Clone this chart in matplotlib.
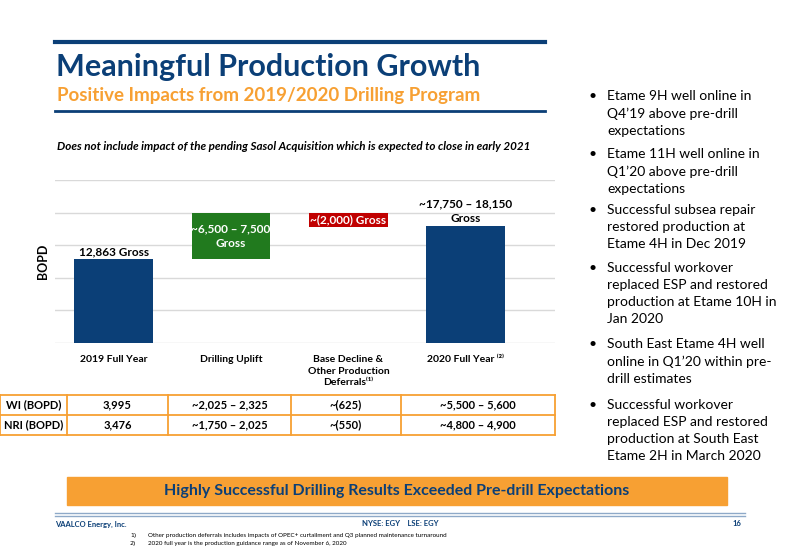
import matplotlib
matplotlib.use("Agg")
import matplotlib.pyplot as plt
from matplotlib.patches import Rectangle
from matplotlib.lines import Line2D

plt.rcParams['font.family'] = ['Lato', 'DejaVu Sans']

categories = ["2019 Full Year", "Drilling Uplift", "Base Decline &\nOther Production\nDeferrals⁽¹⁾", "2020 Full Year ⁽²⁾"]
bar_bottoms = [0, 12863, 17863, 0]
bar_heights = [12863, 7000, 2000, 17950]
bar_labels = ["12,863 Gross", "~6,500 – 7,500\nGross", "~(2,000) Gross", "~17,750 – 18,150\nGross"]
row_labels = ["WI (BOPD)", "NRI (BOPD)"]
wi_values = ["3,995", "~2,025 – 2,325", "~(625)", "~5,500 – 5,600"]
nri_values = ["3,476", "~1,750 – 2,025", "~(550)", "~4,800 – 4,900"]
bullets = [
    "Etame 9H well online in\nQ4’19 above pre-drill\nexpectations",
    "Etame 11H well online in\nQ1’20 above pre-drill\nexpectations",
    "Successful subsea repair\nrestored production at\nEtame 4H in Dec 2019",
    "Successful workover\nreplaced ESP and restored\nproduction at Etame 10H in\nJan 2020",
    "South East Etame 4H well\nonline in Q1’20 within pre-\ndrill estimates",
    "Successful workover\nreplaced ESP and restored\nproduction at South East\nEtame 2H in March 2020",
]

NAVY = "#0B3F77"
GREEN = "#217A1E"
RED = "#C00000"
ORANGE = "#F7A033"

fig = plt.figure(figsize=(8, 5.54), dpi=100)
W, H = 800, 554

ax = fig.add_axes([55/W, 1-343/H, 500/W, 163/H])
colors = [NAVY, GREEN, RED, NAVY]
x = list(range(len(categories)))
ax.bar(x, bar_heights, bottom=bar_bottoms, width=0.67, color=colors, zorder=3)
ax.set_xlim(-0.5, 3.76)
ax.set_ylim(0, 25000)
ax.set_yticks(range(0, 25001, 5000))
ax.yaxis.grid(True, color="#D9D9D9", lw=1, zorder=0)
ax.tick_params(axis='y', length=0, labelleft=False)
ax.tick_params(axis='x', length=0, pad=9)
ax.set_xticks(x)
ax.set_xticklabels(categories, fontsize=7.5, fontweight='bold', va='top', linespacing=1.35)
for s in ax.spines.values():
    s.set_visible(False)
ax.set_ylabel("BOPD", fontsize=9, fontweight='bold', labelpad=4)
ax.text(0, 12863 + 300, bar_labels[0], ha='center', va='bottom', fontsize=8.5, fontweight='bold')
ax.text(1, 12863 + 3500, bar_labels[1], ha='center', va='center', fontsize=8.5, fontweight='bold', color='white', linespacing=1.4, zorder=4)
ax.text(2, 18863, bar_labels[2], ha='center', va='center', fontsize=8.5, fontweight='bold', color='white', zorder=4)
ax.text(3, 17950 + 300, bar_labels[3], ha='center', va='bottom', fontsize=8.5, fontweight='bold', linespacing=1.4)

ov = fig.add_axes([0, 0, 1, 1], zorder=-1)
ov.set_xlim(0, W); ov.set_ylim(H, 0); ov.axis('off')

ov.add_line(Line2D([55, 545], [42, 42], color=NAVY, lw=3))
ov.add_line(Line2D([55, 545], [111, 111], color=NAVY, lw=2))
ov.text(56, 67, "Meaningful Production Growth", fontsize=22, fontweight='bold', color=NAVY, va='center')
ov.text(57, 96, "Positive Impacts from 2019/2020 Drilling Program", fontsize=13.5, fontweight='bold', color=ORANGE, va='center')
ov.text(57, 146, "Does not include impact of the pending Sasol Acquisition which is expected to close in early 2021",
        fontsize=8.4, fontweight='bold', style='italic', va='center')

cols = [0, 67, 168, 291, 401, 555]
rows = [395, 415, 435]
for yy in rows:
    ov.add_line(Line2D([0, 555], [yy, yy], color=ORANGE, lw=1.3))
for xx in cols:
    ov.add_line(Line2D([xx, xx], [395, 435], color=ORANGE, lw=1.3))
for r, (lab, vals) in enumerate(zip(row_labels, [wi_values, nri_values])):
    yc = (rows[r] + rows[r+1]) / 2
    ov.text((cols[0]+cols[1])/2, yc, lab, ha='center', va='center', fontsize=8, fontweight='bold')
    for c, v in enumerate(vals):
        ov.text((cols[c+1]+cols[c+2])/2, yc, v, ha='center', va='center', fontsize=8, fontweight='bold')

ys = [90, 148, 204, 262, 338, 399]
for b, yy in zip(bullets, ys):
    ov.text(588, yy, "•", fontsize=10, va='top')
    ov.text(607, yy, b, fontsize=10, va='top', linespacing=1.5)

ov.add_patch(Rectangle((67, 477), 660, 28, color=ORANGE))
ov.text(397, 491, "Highly Successful Drilling Results Exceeded Pre-drill Expectations",
        ha='center', va='center', fontsize=11.5, fontweight='bold', color=NAVY)

ov.add_line(Line2D([55, 745], [513, 513], color="#8EA9C8", lw=1))
ov.add_line(Line2D([55, 745], [516, 516], color="#8EA9C8", lw=1))
ov.text(55, 524, "VAALCO Energy, Inc.", fontsize=5.5, fontweight='bold', color=NAVY, va='center')
ov.text(400, 524, "NYSE: EGY    LSE: EGY", fontsize=5.5, fontweight='bold', color=NAVY, va='center', ha='center')
ov.text(741, 524, "16", fontsize=5.5, fontweight='bold', color=NAVY, va='center', ha='right')
ov.text(130, 535, "1)", fontsize=4.5, va='center', family='DejaVu Sans')
ov.text(148, 535, "Other production deferrals includes impacts of OPEC+ curtailment and Q3 planned maintenance turnaround", fontsize=4.5, va='center')
ov.text(130, 544, "2)", fontsize=4.5, va='center', family='DejaVu Sans')
ov.text(148, 544, "2020 full year is the production guidance range as of November 6, 2020", fontsize=4.5, va='center')

fig.savefig("out.png", dpi=100)
